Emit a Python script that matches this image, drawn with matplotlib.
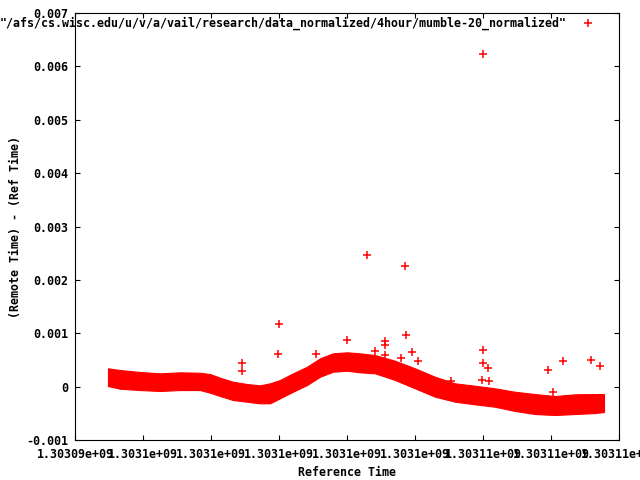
import matplotlib
matplotlib.use('Agg')
import matplotlib.pyplot as plt

# band of regular readings: reference time vs. visible upper/lower edge
band_time = [1303094970, 1303095323, 1303095912, 1303096500, 1303097088,
             1303097676, 1303097971, 1303098265, 1303098647, 1303099059,
             1303099441, 1303099735, 1303100029, 1303100412, 1303100824,
             1303101206, 1303101588, 1303102000, 1303102382, 1303102824,
             1303103412, 1303104000, 1303104588, 1303105176, 1303105765,
             1303106353, 1303106941, 1303107529, 1303108118, 1303108706,
             1303109294, 1303109559]
band_upper = [0.343, 0.311, 0.274, 0.249, 0.268, 0.260, 0.236, 0.167,
              0.092, 0.049, 0.024, 0.062, 0.124, 0.249, 0.373, 0.530,
              0.624, 0.643, 0.624, 0.592, 0.485, 0.343, 0.185, 0.062,
              0.017, -0.032, -0.096, -0.139, -0.176, -0.144, -0.139, -0.139]
band_lower = [0.011, -0.039, -0.064, -0.082, -0.064, -0.064, -0.114, -0.176,
              -0.251, -0.283, -0.313, -0.313, -0.219, -0.096, 0.030, 0.185,
              0.279, 0.298, 0.268, 0.249, 0.124, -0.032, -0.189, -0.283,
              -0.332, -0.377, -0.457, -0.513, -0.532, -0.513, -0.495, -0.476]

# scattered readings outside the band (offset in ms)
out_time = [1303098920, 1303098920, 1303100010, 1303099980, 1303101097,
            1303102008, 1303102597, 1303103714, 1303103744, 1303102832,
            1303103126, 1303103126, 1303103126, 1303103597, 1303103920,
            1303104097, 1303105049, 1303106008, 1303106008, 1303106008,
            1303105979, 1303106155, 1303106185, 1303107920, 1303108049,
            1303108361, 1303109185, 1303109449]
out_offset = [0.448, 0.298, 1.167, 0.611, 0.611,
              0.867, 2.460, 2.254, 0.961, 0.661,
              0.860, 0.785, 0.586, 0.536, 0.643,
              0.474, 0.111, 6.231, 0.686, 0.437,
              0.118, 0.343, 0.105, 0.305, -0.101,
              0.474, 0.498, 0.380]

x_ticks = [1303094000, 1303096000, 1303098000, 1303100000, 1303102000,
           1303104000, 1303106000, 1303108000, 1303110000]
y_ticks = [-0.001, 0, 0.001, 0.002, 0.003, 0.004, 0.005, 0.006, 0.007]

series_name = '"/afs/cs.wisc.edu/u/v/a/vail/research/data_normalized/4hour/mumble-20_normalized"'

plt.rcParams['font.family'] = 'DejaVu Sans Mono'
plt.rcParams['font.weight'] = 'bold'
fs = 8.4

fig = plt.figure(figsize=(6.4, 4.8), dpi=100)
ax = fig.add_axes([75 / 640, 40 / 480, 544 / 640, 427 / 480])

ax.fill_between(band_time, [v / 1000 for v in band_lower],
                [v / 1000 for v in band_upper], color='red', lw=0.8,
                edgecolor='red')
ax.plot(out_time, [v / 1000 for v in out_offset], linestyle='none',
        marker='+', color='red', markersize=5.2, markeredgewidth=1.1,
        label=series_name)

ax.set_xlim(x_ticks[0], x_ticks[-1])
ax.set_ylim(y_ticks[0], y_ticks[-1])
ax.set_xticks(x_ticks)
ax.set_xticklabels(['%g' % t for t in x_ticks])
ax.set_yticks(y_ticks)
ax.set_yticklabels(['%g' % t for t in y_ticks])
ax.tick_params(direction='in', top=True, right=True, length=3.6,
               width=0.8, labelsize=fs)
ax.tick_params(axis='x', pad=6)
ax.tick_params(axis='y', pad=5)
for s in ax.spines.values():
    s.set_linewidth(0.8)

ax.set_xlabel('Reference Time', fontsize=fs, fontweight='bold')
ax.xaxis.set_label_coords(0.5, -0.061)
ax.set_ylabel('(Remote Time) - (Ref Time)', fontsize=fs, fontweight='bold')
ax.yaxis.set_label_coords(-0.097, 0.5)

ax.legend(loc='upper right', frameon=False, markerfirst=False, fontsize=fs,
          handlelength=2, handletextpad=0.8, borderaxespad=0,
          bbox_to_anchor=(604 / 640, 468 / 480),
          bbox_transform=fig.transFigure)

fig.savefig('out.png', dpi=100)
plt.close(fig)
